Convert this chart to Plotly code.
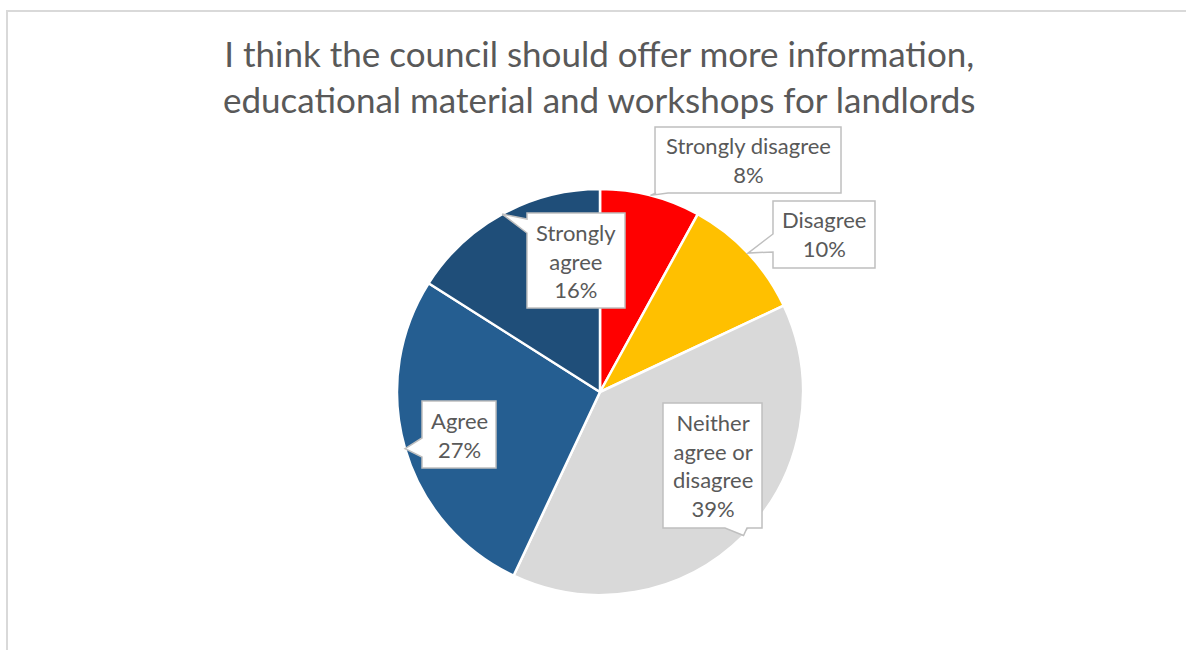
import math
import plotly.graph_objects as go

# Survey responses, clockwise from 12 o'clock
categories = ["Strongly disagree", "Disagree", "Neither agree or disagree", "Agree", "Strongly agree"]
values = [8, 10, 39, 27, 16]
label_lines = [["Strongly disagree"], ["Disagree"], ["Neither", "agree or", "disagree"], ["Agree"], ["Strongly", "agree"]]
colors = ["#FF0000", "#FFC000", "#D9D9D9", "#255E91", "#1F4E79"]

W, H = 1186, 650
CX, CY, R = 600, 392, 203  # pie centre / radius in pixels

# Callout boxes (x0, y0, x1, y1) in pixels
boxes = [
    (655, 127, 841, 193),
    (773, 201, 875, 268),
    (663, 403, 762, 528),
    (422, 401, 496, 468),
    (527, 213, 625, 308),
]
# pointer base: side of the box and the span along it
bases = [
    ("bottom", 656, 668),
    ("left", 234, 252),
    ("bottom", 725, 747),
    ("left", 438, 457),
    ("left", 219, 233),
]


def px(x):
    return x / W


def py(y):
    return 1 - y / H


fig = go.Figure()
fig.add_trace(go.Pie(
    labels=categories,
    values=values,
    sort=False,
    direction="clockwise",
    rotation=0,
    marker=dict(colors=colors, line=dict(color="white", width=2.5)),
    textinfo="none",
    showlegend=False,
    domain=dict(x=[px(CX - R), px(CX + R)], y=[py(CY + R), py(CY - R)]),
))

total = sum(values)
shapes = []
annotations = []
cum = 0
for i, v in enumerate(values):
    mid = (cum + v / 2) / total * 2 * math.pi
    cum += v
    tx = CX + R * math.sin(mid)
    ty = CY - R * math.cos(mid)
    x0, y0, x1, y1 = boxes[i]
    side, a, b = bases[i]
    # outline of the callout: rectangle with a wedge pointing at the slice
    if side == "bottom":
        pts = [(x0, y0), (x1, y0), (x1, y1), (b, y1), (tx, ty), (a, y1), (x0, y1)]
    else:  # left
        pts = [(x0, y0), (x1, y0), (x1, y1), (x0, y1), (x0, b), (tx, ty), (x0, a)]
    path = "M " + " L ".join(f"{px(x):.5f},{py(y):.5f}" for x, y in pts) + " Z"
    shapes.append(dict(type="path", xref="paper", yref="paper", path=path,
                       fillcolor="white", line=dict(color="#BFBFBF", width=1.5)))
    text = "<br>".join(label_lines[i] + [f"{v}%"])
    annotations.append(dict(x=px((x0 + x1) / 2), y=py((y0 + y1) / 2), xref="paper", yref="paper",
                            text=text, showarrow=False, xanchor="center", yanchor="middle",
                            font=dict(family="Lato", size=22, color="#595959")))

# chart area frame
shapes.insert(0, dict(type="rect", xref="paper", yref="paper", x0=px(7), x1=px(W + 10),
                      y0=py(H + 10), y1=py(11), line=dict(color="#D9D9D9", width=2), layer="below"))

annotations.append(dict(x=px(599), y=py(76), xref="paper", yref="paper",
                        text="I think the council should offer more information,<br>"
                             "educational material and workshops for landlords",
                        showarrow=False, xanchor="center", yanchor="middle",
                        font=dict(family="Lato", size=35, color="#595959")))

fig.update_layout(
    width=W, height=H,
    margin=dict(l=0, r=0, t=0, b=0),
    paper_bgcolor="white",
    plot_bgcolor="white",
    shapes=shapes,
    annotations=annotations,
)

fig.write_html("out.html")
